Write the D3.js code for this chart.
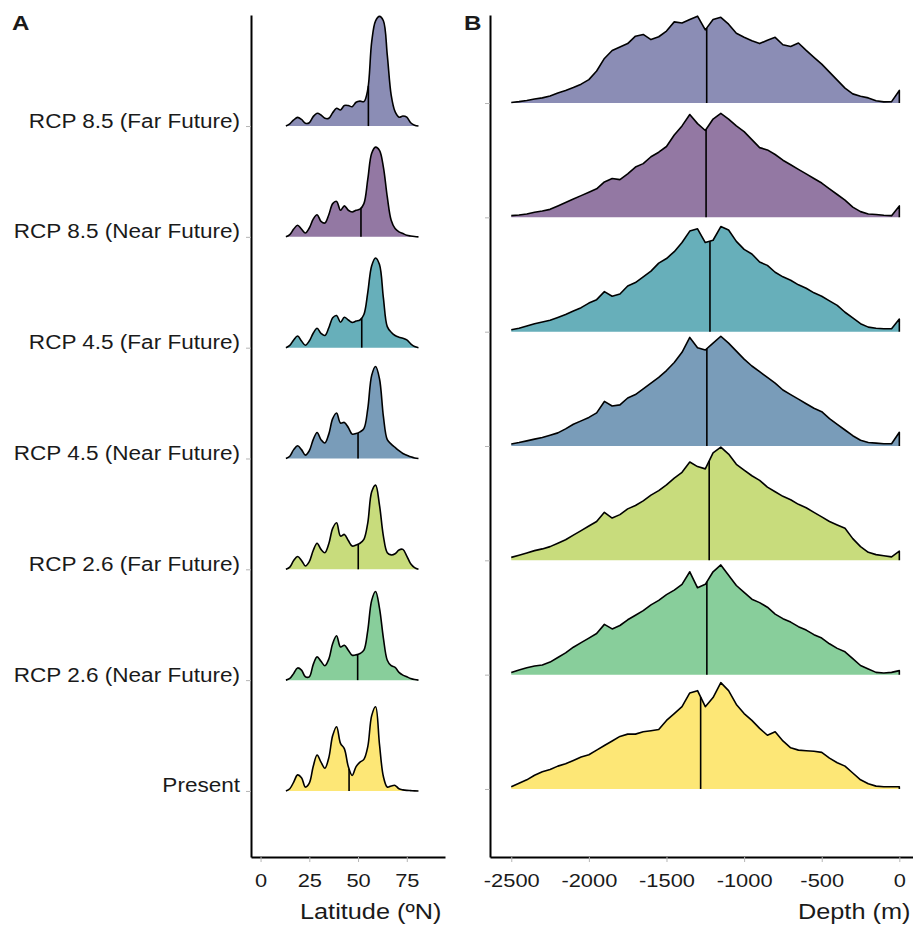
<!DOCTYPE html>
<html>
<head>
<meta charset="utf-8">
<script src="https://cdn.jsdelivr.net/npm/d3@7"></script>
<style>
    body { margin: 0; background: #fff; }
    svg { display: block; font-family: "Liberation Sans", Arial, sans-serif; }
</style>
</head>
<body>
<svg id="ridges" width="913" height="930"></svg>
<script>
// scenarios, bottom row first
var scenarios = ["Present", "RCP 2.6 (Near Future)", "RCP 2.6 (Far Future)", "RCP 4.5 (Near Future)",
    "RCP 4.5 (Far Future)", "RCP 8.5 (Near Future)", "RCP 8.5 (Far Future)"]
var colours = ["#fde776", "#88ce9b", "#c8dc7c", "#799cb9", "#67afba", "#9378a3", "#8b8db5"]

// panel A: latitude grid (ºN) and relative density heights
var latitudes = [13, 15, 17, 19, 21, 23, 25, 27, 29, 31, 33, 35, 37, 39, 41, 43, 45, 47, 49, 51, 53, 55, 57, 59, 61, 63, 65, 67, 69, 71, 73, 75, 77, 79, 81]
var latPresent = [0, 0.02, 0.08, 0.145, 0.12, 0.035, 0.07, 0.22, 0.325, 0.26, 0.205, 0.3, 0.5, 0.58, 0.43, 0.38, 0.22, 0.14, 0.22, 0.26, 0.285, 0.4, 0.68, 0.76, 0.42, 0.13, 0.035, 0.045, 0.05, 0.02, 0.01, 0.005, 0.003, 0.001, 0]
var lat26Near = [0, 0.015, 0.06, 0.11, 0.09, 0.03, 0.03, 0.14, 0.21, 0.17, 0.13, 0.19, 0.33, 0.4, 0.3, 0.315, 0.27, 0.225, 0.228, 0.24, 0.27, 0.45, 0.72, 0.8, 0.65, 0.38, 0.18, 0.13, 0.115, 0.07, 0.045, 0.03, 0.015, 0.005, 0]
var lat26Far = [0, 0.02, 0.08, 0.115, 0.08, 0.03, 0.07, 0.17, 0.235, 0.18, 0.15, 0.23, 0.37, 0.42, 0.3, 0.315, 0.26, 0.21, 0.22, 0.235, 0.27, 0.42, 0.7, 0.76, 0.58, 0.3, 0.15, 0.13, 0.14, 0.175, 0.18, 0.12, 0.05, 0.015, 0]
var lat45Near = [0, 0.02, 0.08, 0.115, 0.08, 0.03, 0.07, 0.17, 0.235, 0.17, 0.14, 0.22, 0.36, 0.41, 0.32, 0.325, 0.28, 0.22, 0.225, 0.24, 0.27, 0.45, 0.75, 0.83, 0.72, 0.38, 0.17, 0.13, 0.1, 0.07, 0.045, 0.03, 0.015, 0.005, 0]
var lat45Far = [0, 0.02, 0.07, 0.105, 0.06, 0.022, 0.06, 0.13, 0.175, 0.13, 0.11, 0.18, 0.27, 0.29, 0.23, 0.275, 0.25, 0.228, 0.24, 0.25, 0.3, 0.5, 0.74, 0.81, 0.75, 0.45, 0.19, 0.14, 0.11, 0.095, 0.085, 0.07, 0.035, 0.01, 0]
var lat85Near = [0, 0.02, 0.07, 0.105, 0.07, 0.035, 0.08, 0.16, 0.2, 0.14, 0.125, 0.2, 0.3, 0.32, 0.24, 0.28, 0.24, 0.225, 0.24, 0.25, 0.3, 0.52, 0.755, 0.81, 0.78, 0.63, 0.36, 0.15, 0.075, 0.045, 0.03, 0.015, 0.008, 0.003, 0]
var lat85Far = [0, 0.02, 0.055, 0.078, 0.06, 0.025, 0.03, 0.085, 0.115, 0.1, 0.07, 0.07, 0.12, 0.16, 0.145, 0.185, 0.185, 0.175, 0.215, 0.225, 0.22, 0.33, 0.76, 0.95, 0.99, 0.95, 0.64, 0.28, 0.13, 0.08, 0.09, 0.08, 0.03, 0.008, 0]
var latMedians = [45.4, 49.8, 50.1, 50.0, 51.9, 51.5, 55.3]

// panel B: depth grid (m) and relative density heights
var depths = [-2500, -2450, -2400, -2350, -2300, -2250, -2200, -2150, -2100, -2050, -2000, -1950, -1900, -1850, -1800, -1750, -1700,
    -1650, -1600, -1550, -1500, -1450, -1400, -1350, -1300, -1250, -1200, -1150, -1100, -1050, -1000, -950, -900, -850,
    -800, -750, -700, -650, -600, -550, -500, -450, -400, -350, -300, -250, -200, -150, -100, -50, 0]
var depthPresent = [0.02, 0.05, 0.08, 0.12, 0.15, 0.17, 0.2, 0.22, 0.25, 0.28, 0.3, 0.34, 0.38, 0.42, 0.46, 0.48, 0.48, 0.5, 0.51, 0.52, 0.6,
    0.66, 0.72, 0.84, 0.86, 0.72, 0.8, 0.93, 0.86, 0.74, 0.66, 0.6, 0.53, 0.47, 0.5, 0.42, 0.36, 0.34, 0.335, 0.33, 0.32,
    0.27, 0.23, 0.2, 0.14, 0.08, 0.045, 0.025, 0.02, 0.02, 0.02]
var depth26Near = [0.018, 0.04, 0.06, 0.075, 0.085, 0.11, 0.15, 0.19, 0.24, 0.28, 0.32, 0.36, 0.44, 0.4, 0.43, 0.48, 0.52, 0.56, 0.61, 0.65, 0.7,
    0.74, 0.79, 0.9, 0.76, 0.79, 0.9, 0.96, 0.87, 0.78, 0.72, 0.66, 0.63, 0.59, 0.53, 0.49, 0.46, 0.42, 0.39, 0.35, 0.32,
    0.27, 0.23, 0.2, 0.14, 0.08, 0.05, 0.02, 0.015, 0.02, 0.035]
var depth26Far = [0.026, 0.045, 0.065, 0.085, 0.1, 0.12, 0.15, 0.18, 0.22, 0.26, 0.3, 0.34, 0.42, 0.37, 0.4, 0.45, 0.48, 0.52, 0.57, 0.61, 0.66,
    0.72, 0.77, 0.86, 0.82, 0.8, 0.94, 0.99, 0.93, 0.84, 0.79, 0.74, 0.7, 0.64, 0.6, 0.56, 0.53, 0.49, 0.46, 0.42, 0.38,
    0.34, 0.31, 0.28, 0.19, 0.12, 0.07, 0.05, 0.04, 0.03, 0.08]
var depth45Near = [0.018, 0.03, 0.045, 0.06, 0.075, 0.095, 0.115, 0.15, 0.19, 0.22, 0.25, 0.29, 0.39, 0.35, 0.36, 0.42, 0.45, 0.5, 0.55, 0.6, 0.66,
    0.73, 0.82, 0.95, 0.86, 0.84, 0.9, 0.96, 0.9, 0.83, 0.76, 0.7, 0.65, 0.6, 0.55, 0.49, 0.45, 0.41, 0.37, 0.33, 0.3,
    0.24, 0.19, 0.14, 0.09, 0.05, 0.03, 0.025, 0.02, 0.02, 0.12]
var depth45Far = [0.017, 0.03, 0.05, 0.07, 0.085, 0.1, 0.125, 0.15, 0.18, 0.21, 0.25, 0.28, 0.35, 0.31, 0.33, 0.4, 0.43, 0.48, 0.53, 0.6, 0.64,
    0.7, 0.78, 0.88, 0.9, 0.78, 0.8, 0.92, 0.89, 0.79, 0.72, 0.68, 0.61, 0.58, 0.52, 0.48, 0.45, 0.41, 0.38, 0.34, 0.31,
    0.27, 0.23, 0.17, 0.12, 0.07, 0.04, 0.03, 0.025, 0.025, 0.11]
var depth85Near = [0.015, 0.02, 0.03, 0.045, 0.055, 0.07, 0.1, 0.13, 0.16, 0.19, 0.22, 0.25, 0.31, 0.34, 0.33, 0.38, 0.44, 0.47, 0.53, 0.57, 0.62,
    0.72, 0.8, 0.9, 0.82, 0.76, 0.86, 0.91, 0.86, 0.8, 0.75, 0.68, 0.61, 0.59, 0.55, 0.5, 0.46, 0.42, 0.38, 0.34, 0.3,
    0.25, 0.2, 0.15, 0.09, 0.05, 0.03, 0.025, 0.018, 0.015, 0.1]
var depth85Far = [0.005, 0.012, 0.022, 0.035, 0.045, 0.062, 0.088, 0.11, 0.135, 0.165, 0.205, 0.28, 0.39, 0.46, 0.49, 0.52, 0.585, 0.6, 0.555, 0.58, 0.63,
    0.71, 0.7, 0.73, 0.76, 0.64, 0.73, 0.75, 0.69, 0.61, 0.575, 0.545, 0.52, 0.55, 0.575, 0.51, 0.495, 0.525, 0.46, 0.4, 0.34,
    0.27, 0.2, 0.13, 0.08, 0.06, 0.045, 0.02, 0.01, 0.012, 0.11]
var depthMedians = [-1280, -1240, -1225, -1240, -1220, -1245, -1241]

var latTicks = [0, 25, 50, 75]
var depthTicks = [-2500, -2000, -1500, -1000, -500, 0]

const stretch = 1.15   // the reference text is a little wider than plain Arial
const svg = d3.select("#ridges")

function yAtX(node, x) {
    var lo = 0, hi = node.getTotalLength()
    for (var k = 0; k < 40; k++) {
        var mid = (lo + hi) / 2
        if (node.getPointAtLength(mid).x < x) lo = mid; else hi = mid
    }
    return node.getPointAtLength(lo).y
}

function drawPanel(opts) {
    var g = svg.append("g")
    var x = opts.x, row = opts.row, h = opts.height

    // ridges, top row first so lower rows sit over it
    for (var i = opts.series.length - 1; i >= 0; i--) {
        var base = row(i)
        var pts = opts.grid.map((v, j) => [v, opts.series[i][j]])
        var area = d3.area().curve(opts.curve)
            .x(d => x(d[0])).y0(base).y1(d => base - h(d[1]))
        var outline = pts.concat([[opts.grid[opts.grid.length - 1], 0]])
        var line = d3.line().curve(opts.curve)
            .x(d => x(d[0])).y(d => base - h(d[1]))

        g.append("path").datum(pts)
            .attr("d", area)
            .attr("fill", colours[i])
        var top = g.append("path").datum(outline)
            .attr("d", line)
            .attr("fill", "none")
            .attr("stroke", "#000")
            .attr("stroke-width", 1.6)
            .attr("stroke-linejoin", "round")
        var mx = x(opts.medians[i])
        g.append("line")
            .attr("x1", mx).attr("x2", mx)
            .attr("y1", base).attr("y2", yAtX(top.node(), mx))
            .attr("stroke", "#000")
            .attr("stroke-width", 1.6)
    }

    // axes
    var xAxis = g.append("g")
        .attr("transform", "translate(0," + opts.bottom + ")")
        .call(d3.axisBottom(x).tickValues(opts.ticks).tickSize(5).tickPadding(11.5).tickSizeOuter(0)
            .tickFormat(d => String(d)))
    var yAxis = g.append("g")
        .attr("transform", "translate(" + opts.left + ",0)")
        .call(d3.axisLeft(row).tickValues(d3.range(opts.series.length)).tickSize(5).tickSizeOuter(0)
            .tickFormat(i => opts.labels ? scenarios[i] : ""))

    ;[xAxis, yAxis].forEach(function(ax) {
        ax.attr("font-family", null).attr("font-size", null)
        ax.select(".domain").attr("stroke", "#000").attr("stroke-width", 2)
        ax.selectAll(".tick line").attr("stroke", "#b5b5b5").attr("stroke-width", 1)
    })
    xAxis.selectAll(".tick text")
        .attr("font-size", 19)
        .attr("fill", "#1a1a1a")
        .attr("transform", "scale(" + stretch + ",1)")
    yAxis.selectAll(".tick text")
        .attr("font-size", 19.6)
        .attr("fill", "#1a1a1a")
        .attr("x", -11 / stretch)
        .attr("dy", null)
        .attr("y", 1)
        .attr("transform", "scale(" + stretch + ",1)")
    return g
}

function addText(str, x, y, size, weight) {
    svg.append("text")
        .attr("transform", "translate(" + x + "," + y + ") scale(" + stretch + ",1)")
        .attr("font-size", size)
        .attr("font-weight", weight || "normal")
        .attr("fill", "#1a1a1a")
        .text(str)
}

// panel A
drawPanel({
    x: d3.scaleLinear().domain([-4.9, 94.6]).range([251, 445]),
    row: d3.scaleLinear().domain([-0.596, 7.002]).range([857, 15]),
    height: d3.scaleLinear().domain([0, 1]).range([0, 110.8]),
    grid: latitudes,
    series: [latPresent, lat26Near, lat26Far, lat45Near, lat45Far, lat85Near, lat85Far],
    medians: latMedians,
    ticks: latTicks,
    curve: d3.curveCatmullRom,
    bottom: 857, left: 251, labels: true
})

// panel B
drawPanel({
    x: d3.scaleLinear().domain([-2637, 88]).range([490, 913]),
    row: d3.scaleLinear().domain([-0.595, 6.77]).range([857, 15]),
    height: d3.scaleLinear().domain([0, 1]).range([0, 114.3]),
    grid: depths,
    series: [depthPresent, depth26Near, depth26Far, depth45Near, depth45Far, depth85Near, depth85Far],
    medians: depthMedians,
    ticks: depthTicks,
    curve: d3.curveLinear,
    bottom: 857, left: 490, labels: false
})

addText("A", 12, 30, 21, "bold")
addText("B", 464, 30, 21, "bold")
addText("Latitude (ºN)", 300, 919, 22)
addText("Depth (m)", 798, 919, 22)
</script>
</body>
</html>
